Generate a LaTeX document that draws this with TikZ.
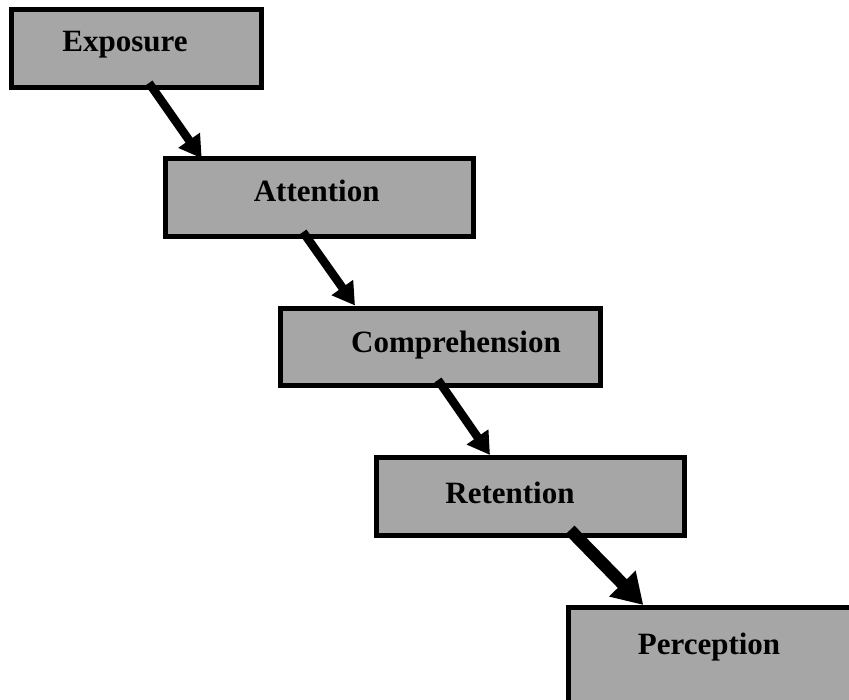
\documentclass[tikz,border=0pt]{standalone}
\usepackage{fontspec}
\setmainfont{Liberation Serif}
\usetikzlibrary{arrows.meta}
\definecolor{boxgray}{RGB}{166,166,166}
\tikzset{
  stagebox/.style={draw=black, fill=boxgray, line width=5pt, rectangle,
    inner sep=0pt, outer sep=0pt, anchor=center},
  stagelbl/.style={anchor=base, inner sep=0pt,
    font=\bfseries\fontsize{31}{31}\selectfont},
  flow/.style={line width=8.5pt, -{Triangle[length=22pt,width=25pt]}},
  bigflow/.style={line width=12.5pt, -{Triangle[length=30pt,width=35pt]}}
}
\begin{document}
\begin{tikzpicture}[x=1pt,y=-1pt]
  \useasboundingbox (0,0) rectangle (849,700);
  \clip (0,0) rectangle (849,700);
  % stage boxes
  \node[stagebox, minimum width=250pt, minimum height=78pt] (exp) at (136.5,48.5) {};
  \node[stagebox, minimum width=308pt, minimum height=78pt] (att) at (319.5,197.5) {};
  \node[stagebox, minimum width=320pt, minimum height=77pt] (comp) at (440.5,347) {};
  \node[stagebox, minimum width=308pt, minimum height=78pt] (ret) at (530.5,496.5) {};
  \node[stagebox, minimum width=330pt, minimum height=110pt] (per) at (733.5,662.5) {};
  % stage labels
  \node[stagelbl] (expl) at (125,52) {Exposure};
  \node[stagelbl] (attl) at (316.7,202) {Attention};
  \node[stagelbl] (compl) at (456,353) {Comprehension};
  \node[stagelbl] (retl) at (510,503) {Retention};
  \node[stagelbl] (perl) at (709,654) {Perception};
  % connectors between stages
  \draw[flow] ([shift={(137.5,-4.5)}]exp.south west) -- ([shift={(36.2,-0.2)}]att.north west);
  \draw[flow] ([shift={(137.5,-4.5)}]att.south west) -- ([shift={(74.5,-3)}]comp.north west);
  \draw[flow] ([shift={(157.5,-5.5)}]comp.south west) -- ([shift={(113.5,-2.5)}]ret.north west);
  \draw[bigflow] ([shift={(193.5,-5.5)}]ret.south west) -- ([shift={(74.8,-2.5)}]per.north west);
\end{tikzpicture}
\end{document}
